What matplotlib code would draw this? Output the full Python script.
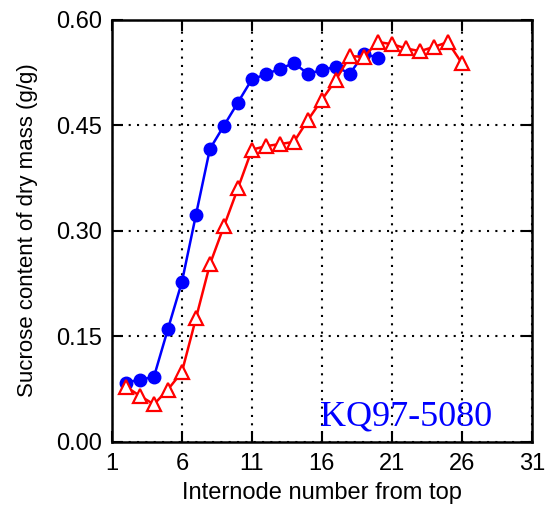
import matplotlib.pyplot as plt
import numpy as np

# internode number from top
blue_x = list(range(2, 21))
blue_y = [0.084, 0.088, 0.092, 0.160, 0.227, 0.322, 0.416, 0.449, 0.482, 0.515,
          0.522, 0.530, 0.538, 0.523, 0.528, 0.533, 0.523, 0.551, 0.546]

red_x = list(range(2, 27))
red_y = [0.078, 0.065, 0.053, 0.074, 0.099, 0.175, 0.252, 0.306, 0.360, 0.415,
         0.420, 0.423, 0.426, 0.457, 0.486, 0.514, 0.548, 0.547, 0.568, 0.565,
         0.559, 0.555, 0.561, 0.568, 0.538]

x_ticks = [1, 6, 11, 16, 21, 26, 31]
y_ticks = [0.00, 0.15, 0.30, 0.45, 0.60]

plt.rcParams['font.family'] = ['Liberation Sans', 'DejaVu Sans']

fig = plt.figure(figsize=(5.46, 5.07), dpi=100)
ax = fig.add_axes([0.205, 0.129, 0.769, 0.8325])

ax.plot(blue_x, blue_y, color='#0000ff', lw=1.8, marker='o', ms=9,
        mfc='#0000ff', mec='#0000ff', zorder=3)
ax.plot(red_x, red_y, color='#ff0000', lw=1.8, marker='^', ms=10,
        mfc='white', mec='#ff0000', mew=1.6, zorder=4)

ax.set_xlim(1, 31)
ax.set_ylim(0, 0.6)
ax.set_xticks(x_ticks)
ax.set_yticks(y_ticks)
ax.set_yticklabels(['%.2f' % v for v in y_ticks])

ax.grid(True, color='black', linestyle=(0, (1, 3)), linewidth=1.5)
ax.tick_params(direction='in', length=8, width=1.5, labelsize=17,
               top=True, right=True)
ax.tick_params(axis='x', pad=8)
ax.tick_params(axis='y', pad=7)
for s in ax.spines.values():
    s.set_linewidth(1.8)

ax.set_xlabel('Internode number from top', fontsize=17, labelpad=5)
ax.set_ylabel('Sucrose content of dry mass (g/g)', fontsize=16, labelpad=13)

ax.text(0.905, 0.02, 'KQ97-5080', transform=ax.transAxes, ha='right',
        va='bottom', color='#0000ff', fontsize=26, family='Liberation Serif')

fig.savefig('out.png', dpi=100)
